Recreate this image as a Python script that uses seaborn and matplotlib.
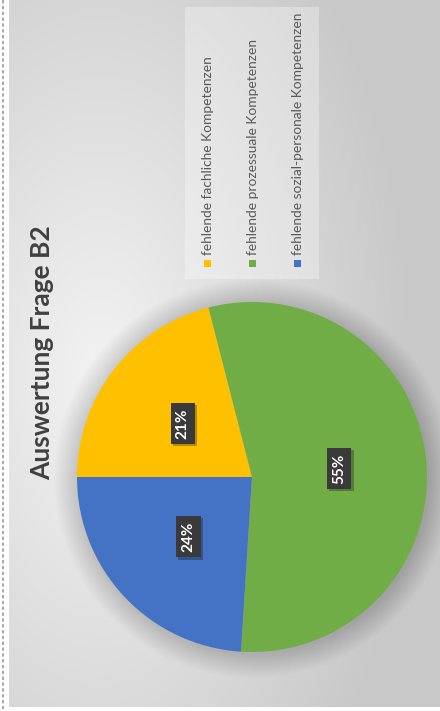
import numpy as np
import matplotlib
matplotlib.use("Agg")
import matplotlib.pyplot as plt
import matplotlib.patheffects as pe
from matplotlib.patches import Rectangle, Circle
from matplotlib.lines import Line2D
import seaborn as sns

# Survey evaluation, question B2
categories = [
    "fehlende fachliche Kompetenzen",
    "fehlende prozessuale Kompetenzen",
    "fehlende sozial-personale Kompetenzen",
]
shares = [21, 55, 24]
slice_colors = ["#FFC000", "#70AD47", "#4472C4"]
title = "Auswertung Frage B2"

sns.set_theme(style="white")
plt.rcParams["font.family"] = ["Lato", "DejaVu Sans"]

W, H = 440, 711
fig = plt.figure(figsize=(W / 100, H / 100), dpi=100)

# soft grey gradient background panel
bg = fig.add_axes([0, 0, 1, 1])
yy, xx = np.mgrid[0:H, 0:W]
r = np.sqrt(((xx - 100) / 330.0) ** 2 + ((yy - 380) / 600.0) ** 2)
v = np.clip(243 - 45 * r, 200, 245) / 255.0
img = np.dstack([v, v, v])
panel = (xx >= 9) & (yy <= 706)
img[~panel] = 1.0
bg.imshow(img, extent=[0, W, H, 0], aspect="auto", interpolation="bilinear")
bg.set_xlim(0, W)
bg.set_ylim(H, 0)
bg.axis("off")
bg.add_line(Line2D([3, 3], [0, H], color="#9a9a9a", lw=1.2, ls=(0, (2, 1.5))))

# pie, drawn a quarter turn so it reads sideways
cx, cy, R = 252, 477, 175
ax = fig.add_axes([(cx - R) / W, (H - cy - R) / H, 2 * R / W, 2 * R / H])
for i in range(20, 0, -1):
    ax.add_patch(Circle((0.008, -0.008), 1 + i * 0.007, color="black",
                        alpha=0.006, lw=0, zorder=0, clip_on=False))
wedges, _, autotexts = ax.pie(
    shares,
    colors=slice_colors,
    startangle=180,
    counterclock=False,
    autopct="%.0f%%",
    pctdistance=0.5,
    radius=1,
    wedgeprops=dict(linewidth=0),
    textprops=dict(rotation=90, color="white", fontsize=11, fontweight="bold"),
)
for w in wedges:
    w.set_zorder(2)
for t in autotexts:
    t.set_zorder(5)
    t.set_bbox(dict(boxstyle="square,pad=0.35", fc="#3a3a3a", ec="none",
                    path_effects=[pe.SimplePatchShadow(offset=(1.5, -1.5), alpha=0.3),
                                  pe.Normal()]))
ax.set_xlim(-1, 1)
ax.set_ylim(-1, 1)
ax.set_aspect("equal")
ax.axis("off")

# title
fig.text(42 / W, 1 - 353 / H, title, rotation=90, ha="center", va="center",
         fontsize=19, fontweight="bold", color="#404040")

# legend, sideways
bg.add_patch(Rectangle((185, 7), 134, 272, fc="white", alpha=0.3, ec="none"))
leg_x = [207, 252, 297]
for x, lab, col in zip(leg_x, categories, slice_colors):
    bg.add_patch(Rectangle((x - 3.5, 260), 7, 7, fc=col, ec="none"))
    bg.text(x + 1, 255, lab, rotation=90, ha="center", va="bottom",
            fontsize=9.9, color="#595959")

fig.savefig("out.png", dpi=100)
